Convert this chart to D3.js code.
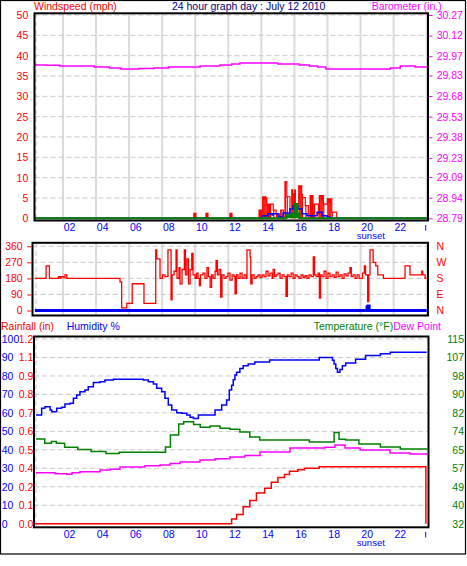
<!DOCTYPE html>
<html><head><meta charset="utf-8">
<script src="https://cdn.jsdelivr.net/npm/d3@7"></script>
<style>
body{margin:0;background:#fff}
svg text{font-family:"Liberation Sans",Arial,sans-serif;font-size:10.5px}
</style></head>
<body><svg id="c" width="467" height="566"></svg>
<script>
// ---------------- DATA ----------------
const hourTickValues = [2,4,6,8,10,12,14,16,18,20,22];
const hourLabels = ["02","04","06","08","10","12","14","16","18","20","22"];
const sunsetHour = 20.62;

const windTicks = [0,5,10,15,20,25,30,35,40,45,50];
const baroTicks = [28.79,28.94,29.09,29.23,29.38,29.53,29.68,29.83,29.97,30.12,30.27];
const dirTicks = [0,90,180,270,360];
const dirLabels = ["N","E","S","W","N"];
const humTicks = [0,10,20,30,40,50,60,70,80,90,100];
const rainTickLabels = ["0.0","0.1","0.2","0.4","0.5","0.6","0.7","0.8","0.9","1.1","1.2"];
const tempTickLabels = ["32","40","49","57","65","74","82","90","98","107","115"];

// wind gust samples (hour, mph)
const windGust = [[0.3,0],[9.92,1.2],[9.98,1.2],[10.04,0],[10.65,1.2],[10.71,1.2],[10.77,0],[12.10,1.2],[12.16,1.2],[12.22,0],
 [13.86,2.0],[13.92,2.0],[13.98,2.0],[14.0,0.5],[14.08,5.3],[14.14,4.8],[14.20,5.3],[14.26,5.0],[14.33,3.5],[14.39,3.0],[14.45,3.5],
 [14.48,1.0],[14.53,3.5],[14.72,2.0],[14.89,1.1],[15.09,0.5],[15.17,2.0],[15.33,0.5],[15.43,9.0],[15.54,5.3],[15.73,1.0],
 [15.84,7.0],[15.90,6.0],[15.96,3.5],[16.02,7.0],[16.04,3.5],[16.26,8.0],[16.32,7.5],[16.38,8.0],[16.44,6.0],[16.46,5.1],
 [16.66,3.1],[16.84,1.1],[16.95,5.6],[17.01,5.0],[17.07,5.6],[17.11,1.2],[17.19,3.5],[17.45,1.0],[17.51,5.6],[17.57,5.6],
 [17.63,4.5],[17.69,5.6],[17.75,3.5],[17.99,4.8],[18.05,4.8],[18.11,4.0],[18.17,4.8],[18.26,1.5],[18.56,0],[24,0]];
// wind speed (hour, mph)
const windSpeed = [[0.3,0],[14.04,0.5],[14.12,0.6],[14.40,1.1],[14.65,0.8],[14.71,1.1],[15.01,0.3],[15.31,1.3],[15.73,2.3],
 [15.92,3.1],[16.22,2.3],[16.46,1.1],[16.76,0.6],[17.37,1.5],[17.67,0.6],[17.97,0.3],[18.15,0],[24,0]];
// wind average (hour, mph)
const windAvg = [[0.3,0],[15.5,0.8],[15.84,1.2],[16.02,3.5],[16.18,1.2],[16.30,0],[24,0]];
// barometer (hour, in)
const barometer = [[0.3,29.906],[1.0,29.904],[1.8,29.899],[2.8,29.899],[3.9,29.891],[4.8,29.884],[5.5,29.877],[6.6,29.880],
 [7.5,29.884],[8.4,29.891],[9.4,29.891],[10.3,29.899],[11.0,29.899],[11.5,29.906],[12.2,29.913],[12.7,29.921],[14.0,29.921],
 [15.0,29.913],[15.7,29.913],[16.3,29.906],[16.9,29.899],[17.4,29.891],[17.9,29.877],[21.2,29.877],[21.8,29.884],[22.4,29.899],
 [23.3,29.891],[24,29.886]];
// wind direction (hour, degrees)
const windDir = [[0.31,180],[0.98,250],[1.18,180],[1.72,190],[1.82,180],[1.88,190],[2.02,185],[2.12,200],[2.23,180],[5.45,160],
 [5.55,15],[5.86,40],[6.19,150],[6.90,40],[7.61,340],[7.67,290],[7.87,180],[8.02,200],[8.17,190],[8.35,340],[8.54,60],[8.60,200],
 [8.72,220],[8.84,340],[8.90,180],[9.02,240],[9.08,150],[9.20,230],[9.34,340],[9.41,200],[9.50,290],[9.59,150],[9.69,230],
 [9.79,320],[9.87,200],[9.99,180],[10.08,210],[10.17,180],[10.25,140],[10.32,200],[10.47,210],[10.59,180],[10.71,240],[10.80,190],
 [10.90,130],[10.99,200],[11.08,180],[11.20,220],[11.26,280],[11.34,200],[11.44,230],[11.54,75],[11.62,200],[11.74,180],
 [11.86,190],[11.98,210],[12.10,170],[12.23,200],[12.35,190],[12.41,95],[12.49,200],[12.59,180],[12.71,210],[12.83,180],
 [12.95,200],[13.07,180],[13.13,340],[13.32,300],[13.36,150],[13.44,200],[13.56,180],[13.68,190],[13.80,200],[13.92,185],
 [14.04,200],[14.16,190],[14.28,220],[14.40,195],[14.52,210],[14.65,180],[14.71,230],[14.80,190],[14.89,200],[15.01,210],
 [15.13,180],[15.25,200],[15.37,190],[15.49,80],[15.57,200],[15.67,190],[15.80,210],[15.92,180],[16.04,200],[16.16,190],
 [16.28,180],[16.40,200],[16.52,185],[16.64,195],[16.76,180],[16.88,200],[17.01,190],[17.14,300],[17.22,200],[17.31,190],
 [17.43,210],[17.51,70],[17.58,200],[17.67,190],[17.79,220],[17.91,180],[18.03,210],[18.15,190],[18.28,200],[18.40,185],
 [18.52,215],[18.64,190],[18.76,200],[18.88,180],[19.00,205],[19.12,195],[19.24,210],[19.36,240],[19.44,190],[19.55,200],
 [19.67,180],[19.79,200],[19.91,180],[20.12,210],[20.23,250],[20.30,200],[20.43,50],[20.50,200],[20.57,340],[20.76,270],
 [20.92,250],[21.04,200],[21.38,180],[22.69,250],[22.99,200],[23.70,220],[23.76,200],[23.90,180],[24,180]];
const dirPanelSpeed = [[0.3,0],[20.37,0],[20.39,20],[20.45,25],[20.52,0],[24,0]];
// humidity (hour, %)
const humidity = [[0.37,58.9],[0.71,62.5],[0.91,63.3],[1.22,61.6],[1.32,60.6],[1.62,62.5],[1.92,63.0],[2.12,64.8],[2.43,65.2],
 [2.63,67.9],[2.83,69.7],[3.03,71.5],[3.33,72.4],[3.53,74.2],[3.84,76.4],[4.24,76.9],[4.54,77.8],[5.05,78.2],[6.06,78.2],
 [6.86,77.8],[7.16,76.9],[7.47,75.6],[7.67,73.3],[7.97,71.5],[8.17,67.9],[8.37,64.3],[8.58,61.6],[8.88,60.1],[9.18,59.8],
 [9.49,58.9],[9.69,57.6],[9.89,57.0],[10.19,58.9],[10.9,58.9],[11.2,61.6],[11.6,64.3],[11.9,67.0],[12.06,72.4],[12.2,75],
 [12.3,78],[12.4,80.5],[12.5,82],[12.7,84],[12.9,85.5],[13.2,86.5],[13.6,87.6],[14.5,88.6],[17.4,88.6],[17.5,90.0],[18.2,90.0],
 [18.3,88.5],[18.4,86.5],[18.5,84],[18.6,82.0],[18.75,83.5],[18.9,85.5],[19.1,87.0],[19.7,89.0],[20.3,91.0],[21.2,92.0],
 [21.8,92.8],[24,92.8]];
// temperature (hour, °F)
const temperature = [[0.37,70.1],[0.9,68.1],[1.3,68.9],[1.6,68.1],[2.1,66.3],[2.9,65.4],[3.7,64.4],[4.6,63.6],[5.4,64.1],
 [7.8,64.1],[8.2,66.5],[8.5,71.9],[9.0,76.8],[9.3,77.8],[9.9,76.6],[10.3,75.3],[10.9,75.9],[11.5,74.9],[12.1,74.4],[12.7,73.2],
 [13.3,71.0],[13.9,69.6],[16.3,69.6],[16.9,68.7],[18.3,68.7],[18.4,73.0],[18.7,70.0],[19.1,69.6],[19.9,67.8],[21.2,66.5],
 [22.4,65.6],[24,65.2]];
// dew point (hour, °F)
const dewPoint = [[0.37,54.9],[1.22,54.9],[1.52,54.5],[2.23,54.2],[2.55,54.9],[3.03,55.4],[4.24,56.1],[4.85,56.5],[5.45,57.5],
 [6.06,57.5],[6.96,58.0],[7.87,58.4],[8.48,59.0],[9.08,59.7],[10.29,60.6],[11.2,61.2],[12.1,62.0],[13.0,62.6],[13.92,64.2],
 [15.73,66.0],[16.94,66.0],[17.85,66.4],[18.45,67.4],[19.06,66.0],[19.97,65.1],[21.78,63.8],[22.99,63.3],[24,62.9]];
// rainfall (hour, in)
const rainfall = [[0.3,0],[12.2,0.03],[12.5,0.06],[12.9,0.11],[13.3,0.15],[13.7,0.20],[14.2,0.23],[14.6,0.27],[15.0,0.30],
 [15.4,0.32],[15.7,0.34],[16.2,0.35],[16.6,0.36],[17.5,0.37],[23.95,0]];

// ---------------- LAYOUT ----------------
const FONT = '"Liberation Sans",Arial,sans-serif';
const NARROW = '"Liberation Sans Narrow","Arial Narrow","Liberation Sans",Arial,sans-serif';
const RED="#ff0000", BLUE="#0000ff", GREEN="#008000", MAG="#ff00ff", NAVY="#000080";
const svg = d3.select("#c");
const x = d3.scaleLinear().domain([0,24]).range([29.9,426.7]);

const P1={l:34.5,r:428,t:13.3,b:220.5};
const P2={l:32.5,r:428,t:242.8,b:315.5};
const P3={l:34,r:428.5,t:336.5,b:527.3};

const yWind = d3.scaleLinear().domain([0,50]).range([218.3,15]);
const yBaro = d3.scaleLinear().domain([28.79,30.27]).range([218.3,15]);
const yDir  = d3.scaleLinear().domain([0,360]).range([310.5,246.3]);
const yHum  = d3.scaleLinear().domain([0,100]).range([523.7,339]);
const yRain = d3.scaleLinear().domain([0,1.2]).range([523.7,339]);
const yTemp = d3.scaleLinear().domain([32,115]).range([523.7,339]);

svg.append("rect").attr("width",467).attr("height",566).attr("fill","#fff");
svg.append("rect").attr("x",0.5).attr("y",0.5).attr("width",465).attr("height",553.5)
  .attr("fill","none").attr("stroke","#000").attr("stroke-width",1.2);

const defs = svg.append("defs");
function clip(id,P){
  defs.append("clipPath").attr("id",id).append("rect")
    .attr("x",P.l).attr("y",P.t).attr("width",P.r-P.l).attr("height",P.b-P.t);
}
clip("c1",P1); clip("c2",P2); clip("c3",P3);

function panel(P,id,yScale,gridVals,vertical){
  const g = svg.append("g").attr("clip-path",`url(#${id})`);
  g.append("rect").attr("x",P.l).attr("y",P.t).attr("width",P.r-P.l).attr("height",P.b-P.t).attr("fill","#fff");
  if(vertical){
    g.selectAll("line.v").data(hourTickValues.concat([24])).join("line")
      .attr("x1",d=>x(d)).attr("x2",d=>x(d)).attr("y1",P.t).attr("y2",P.b)
      .attr("stroke","#dadada").attr("stroke-width",2);
  }
  g.append("line").attr("x1",36).attr("x2",36).attr("y1",P.t).attr("y2",P.b)
    .attr("stroke","#c8c8c8").attr("stroke-dasharray","5,3");
  g.selectAll("line.h").data(gridVals).join("line")
    .attr("x1",P.l).attr("x2",P.r).attr("y1",d=>yScale(d)).attr("y2",d=>yScale(d))
    .attr("stroke","#c8c8c8").attr("stroke-dasharray","5,3");
  return g;
}
function frame(P){
  svg.append("rect").attr("x",P.l).attr("y",P.t).attr("width",P.r-P.l).attr("height",P.b-P.t)
    .attr("fill","none").attr("stroke","#000").attr("stroke-width",2);
}
const step = (ys)=> d3.line().x(d=>x(d[0])).y(d=>ys(d[1])).curve(d3.curveStepAfter);

// ---- top panel ----
const g1 = panel(P1,"c1",yWind,windTicks.slice(1),true);
g1.append("path").attr("d",step(yWind)(windGust)).attr("fill","none").attr("stroke",RED).attr("stroke-width",1.2);
g1.selectAll("line.gust").data(windGust.filter(d=>d[1]>0)).join("line")
  .attr("x1",d=>x(d[0])+0.5).attr("x2",d=>x(d[0])+0.5).attr("y1",yWind(0)).attr("y2",d=>yWind(d[1]))
  .attr("stroke",RED).attr("stroke-width",1.2);
g1.append("path").attr("d",step(yWind)(windSpeed)).attr("fill","none").attr("stroke",BLUE).attr("stroke-width",1.5);
g1.append("path").attr("d",d3.area().x(d=>x(d[0])).y0(yWind(0)).y1(d=>yWind(d[1])).curve(d3.curveStepAfter)(windAvg))
  .attr("fill",GREEN);
g1.append("path").attr("d",step(yWind)(windAvg)).attr("fill","none").attr("stroke",GREEN).attr("stroke-width",2);
g1.append("path").attr("d",step(yBaro)(barometer)).attr("fill","none").attr("stroke",MAG).attr("stroke-width",1.5);
frame(P1);

// ---- middle panel ----
const g2 = panel(P2,"c2",yDir,[90,180,270,360],true);
g2.append("path").attr("d",step(yDir)(windDir)).attr("fill","none").attr("stroke",RED).attr("stroke-width",1.3);
g2.append("path").attr("d",step(yDir)(dirPanelSpeed)).attr("fill","none").attr("stroke",BLUE).attr("stroke-width",3);
frame(P2);

// ---- bottom panel ----
const g3 = panel(P3,"c3",yHum,humTicks.slice(1),false);
g3.append("path").attr("d",step(yHum)(humidity)).attr("fill","none").attr("stroke",BLUE).attr("stroke-width",1.5);
g3.append("path").attr("d",step(yTemp)(temperature)).attr("fill","none").attr("stroke",GREEN).attr("stroke-width",1.5);
g3.append("path").attr("d",step(yTemp)(dewPoint)).attr("fill","none").attr("stroke",MAG).attr("stroke-width",1.5);
g3.append("path").attr("d",step(yRain)(rainfall)).attr("fill","none").attr("stroke",RED).attr("stroke-width",1.5);
frame(P3);

// ---------------- AXES ----------------
function styleAxis(g,color,family,size){
  g.select(".domain").remove();
  g.attr("font-family",family||FONT).attr("font-size",size||10.5);
  g.selectAll("text").attr("fill",color);
  g.selectAll("line").attr("stroke",color);
}
// top
svg.append("g").attr("transform","translate(28.3,0)")
  .call(d3.axisLeft(yWind).tickValues(windTicks).tickFormat(d3.format("d")).tickSize(0).tickPadding(0))
  .call(g=>styleAxis(g,RED));
svg.append("g").attr("transform","translate(429,0)")
  .call(d3.axisRight(yBaro).tickValues(baroTicks).tickFormat(d3.format(".2f")).tickSizeInner(3.5).tickSizeOuter(0).tickPadding(4.2))
  .call(g=>styleAxis(g,MAG));
// middle
svg.append("g").attr("transform","translate(31.7,0)")
  .call(d3.axisLeft(yDir).tickValues(dirTicks).tickFormat(d3.format("d")).tickSizeInner(4.4).tickSizeOuter(0).tickPadding(4.6))
  .call(g=>styleAxis(g,RED));
svg.append("g").attr("transform","translate(436.5,0)")
  .call(d3.axisRight(yDir).tickValues(dirTicks).tickFormat((d,i)=>dirLabels[i]).tickSize(0).tickPadding(0))
  .call(g=>styleAxis(g,RED));
// bottom
svg.append("g").attr("transform","translate(1.7,0)")
  .call(d3.axisRight(yHum).tickValues(humTicks).tickFormat(d3.format("d")).tickSize(0).tickPadding(0))
  .call(g=>styleAxis(g,BLUE));
svg.append("g").attr("transform","translate(33.3,0)")
  .call(d3.axisLeft(yRain).tickValues(d3.range(11).map(i=>i*0.12)).tickFormat((d,i)=>rainTickLabels[i]).tickSize(0).tickPadding(0))
  .call(g=>styleAxis(g,RED));
svg.append("g").attr("transform","translate(464,0)")
  .call(d3.axisLeft(yTemp).tickValues(d3.range(11).map(i=>32+i*8.3)).tickFormat((d,i)=>tempTickLabels[i]).tickSize(0).tickPadding(0))
  .call(g=>styleAxis(g,GREEN));

// x axes
[224,531].forEach(ty=>{
  svg.append("g").attr("transform",`translate(0.3,${ty})`)
    .call(d3.axisBottom(x).tickValues(hourTickValues).tickFormat((d,i)=>hourLabels[i]).tickSize(0).tickPadding(0))
    .call(g=>{styleAxis(g,BLUE,NARROW,9.5); g.selectAll("text").attr("text-anchor","start");});
  svg.append("line").attr("x1",x(24)-1).attr("x2",x(24)-1).attr("y1",ty+1).attr("y2",ty+6.5)
    .attr("stroke",BLUE).attr("stroke-width",1);
});
[239,545.5].forEach(by=>{
  svg.append("text").attr("x",x(sunsetHour)).attr("y",by).attr("text-anchor","middle")
    .attr("fill",BLUE).style("font-family",NARROW).style("font-size","9.5px").text("sunset");
});

// headers
svg.append("text").attr("x",34).attr("y",10).attr("fill",RED).text("Windspeed (mph)");
svg.append("text").attr("x",248.7).attr("y",10).attr("text-anchor","middle").attr("fill",NAVY).text("24 hour graph day : July 12 2010");
svg.append("text").attr("x",371.7).attr("y",10).attr("fill",MAG).text("Barometer (in.)");
svg.append("text").attr("x",1).attr("y",330).attr("fill",RED).text("Rainfall (in)");
svg.append("text").attr("x",66.7).attr("y",330).attr("fill",BLUE).text("Humidity %");
const dp = svg.append("text").attr("x",441).attr("y",330).attr("text-anchor","end").attr("fill",MAG).text("Dew Point");
const dpw = dp.node().getComputedTextLength();
svg.append("text").attr("x",441-dpw).attr("y",330).attr("text-anchor","end").attr("fill",GREEN).text("Temperature (°F)");
</script></body></html>
